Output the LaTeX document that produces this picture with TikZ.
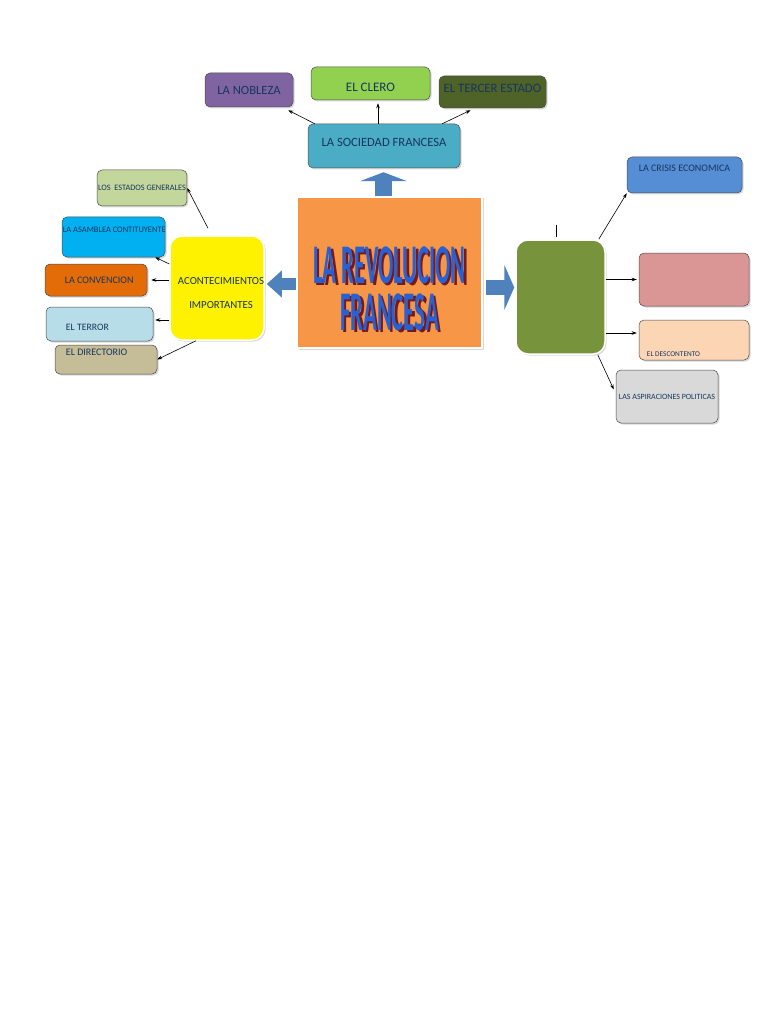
\documentclass[tikz,border=0pt]{standalone}
\usepackage{fontspec}
\setmainfont{Carlito}
\usetikzlibrary{arrows.meta,shadows}
\definecolor{navytext}{RGB}{23,54,93}
\definecolor{noblepurple}{RGB}{128,100,162}
\definecolor{clerogreen}{RGB}{146,208,80}
\definecolor{tercerolive}{RGB}{79,98,40}
\definecolor{socteal}{RGB}{75,172,198}
\definecolor{revorange}{RGB}{247,150,70}
\definecolor{titleblue}{RGB}{38,98,214}
\definecolor{titleshade}{RGB}{120,25,25}
\definecolor{estadosgreen}{RGB}{195,214,155}
\definecolor{asamblue}{RGB}{0,176,240}
\definecolor{convorange}{RGB}{227,108,9}
\definecolor{terrorblue}{RGB}{183,222,232}
\definecolor{directan}{RGB}{196,189,151}
\definecolor{causegreen}{RGB}{119,147,60}
\definecolor{crisisblue}{RGB}{85,142,213}
\definecolor{rosepink}{RGB}{217,150,148}
\definecolor{descpeach}{RGB}{252,213,181}
\definecolor{aspirgray}{RGB}{217,217,217}
\definecolor{arrowblue}{RGB}{79,129,189}

\begin{document}
\begin{tikzpicture}[x=1pt,y=-1pt,
    box/.style={draw=black!70,line width=0.5pt,rounded corners=5pt,inner sep=1pt,
                font=\fontsize{12.6}{14}\selectfont,text=navytext,align=center,
                drop shadow={shadow xshift=1.5pt,shadow yshift=-1.5pt,opacity=0.3}},
    bigbox/.style={box,rounded corners=12pt,draw=white,line width=1.5pt},
    lbl/.style={text=navytext,inner sep=1pt},
    conn/.style={->,>={Stealth[length=5pt,width=3.5pt]},line width=0.6pt},
    fat/.style={draw=arrowblue,line width=#1},
    titletxt/.style={font=\fontsize{40}{33.6}\selectfont\bfseries,align=center,
                inner sep=0pt,xscale=0.565,yscale=1.4,transform shape}]
    \fill[white] (0,0) rectangle (768,1024);
    \useasboundingbox (0,0) rectangle (768,1024);

    % top: la sociedad
    \node[box,fill=noblepurple,minimum width=88pt,minimum height=34pt] (noble) at (249,90) {LA NOBLEZA};
    \node[box,fill=clerogreen,minimum width=119pt,minimum height=33pt,
          label={[lbl,font=\fontsize{13}{14}\selectfont,yshift=-3.5pt]center:EL CLERO}] (clero) at (370.5,83.5) {};
    \node[box,fill=tercerolive,minimum width=107pt,minimum height=32pt,
          label={[lbl,font=\fontsize{12.8}{14}\selectfont,yshift=4pt]center:EL TERCER ESTADO}] (tercer) at (492.5,92) {};
    \node[box,fill=socteal,minimum width=152pt,minimum height=44pt,
          label={[lbl,font=\fontsize{12.6}{14}\selectfont,yshift=4pt]center:LA SOCIEDAD FRANCESA}] (soc) at (384,146) {};

    % center
    \node[draw=white,line width=1.5pt,fill=revorange,minimum width=185pt,minimum height=151pt,
          drop shadow={shadow xshift=1.5pt,shadow yshift=-1.5pt,opacity=0.3}] (center) at (389.5,272.5) {};
    \node[titletxt,text=titleshade] (titleback) at (392,291) {LA REVOLUCION\\FRANCESA};
    \node[titletxt,text=titleblue] (title) at ([shift={(-2.5,-2.5)}]titleback) {LA REVOLUCION\\FRANCESA};

    % left: acontecimientos
    \node[bigbox,fill=yellow,minimum width=94pt,minimum height=104pt,
          label={[lbl,font=\fontsize{10.8}{24}\selectfont,align=center,xshift=4pt,yshift=-5pt]center:ACONTECIMIENTOS\\IMPORTANTES}] (acont) at (217,288) {};
    \node[box,fill=estadosgreen,minimum width=88pt,minimum height=36pt,
          font=\fontsize{8.3}{9}\selectfont] (estados) at (142,188) {LOS \ ESTADOS GENERALES};
    \node[box,fill=asamblue,minimum width=103pt,minimum height=40pt,
          label={[lbl,font=\fontsize{8.4}{9}\selectfont,anchor=west,yshift=7pt]west:LA ASAMBLEA CONTITUYENTE}] (asamblea) at (113.5,237) {};
    \node[box,fill=convorange,minimum width=102pt,minimum height=32pt,
          label={[lbl,font=\fontsize{10}{11}\selectfont,anchor=west,xshift=19pt]west:LA CONVENCION}] (conv) at (96,280) {};
    \node[box,fill=terrorblue,minimum width=107pt,minimum height=34pt,
          label={[lbl,font=\fontsize{9.8}{11}\selectfont,anchor=west,xshift=19pt,yshift=-3pt]west:EL TERROR}] (terror) at (99.5,324) {};
    \node[box,fill=directan,minimum width=102pt,minimum height=29pt,
          label={[lbl,font=\fontsize{10}{11}\selectfont,anchor=west,xshift=10pt,yshift=7.5pt]west:EL DIRECTORIO}] (directorio) at (106,359.5) {};

    % right: causas
    \node[bigbox,fill=causegreen,minimum width=89pt,minimum height=114pt] (causes) at (560.5,297) {};
    \node[box,fill=crisisblue,minimum width=115pt,minimum height=36pt,
          label={[lbl,font=\fontsize{10}{11}\selectfont,anchor=north,yshift=-7pt]north:LA CRISIS ECONOMICA}] (crisis) at (684.5,175) {};
    \node[box,fill=rosepink,minimum width=110pt,minimum height=53pt] (rose) at (694,279.5) {};
    \node[box,fill=descpeach,minimum width=110pt,minimum height=40pt,
          label={[lbl,font=\fontsize{7.3}{8}\selectfont,anchor=south west,xshift=7pt,yshift=3pt]south west:EL DESCONTENTO}] (desc) at (694,340) {};
    \node[box,fill=aspirgray,minimum width=102pt,minimum height=53pt,
          font=\fontsize{8}{9}\selectfont] (aspir) at (667,396.5) {LAS ASPIRACIONES POLITICAS};

    % block arrows
    \draw[fat=17pt,-{Triangle[width=47pt,length=9pt]},shorten >=4pt]
        ([xshift=-6pt]center.north) -- ([xshift=-6pt]center.north |- soc.south);
    \draw[fat=12pt,-{Triangle[width=26pt,length=15pt]},shorten >=2pt]
        ([yshift=-11.5pt]center.west) -- ([yshift=-11.5pt]center.west -| acont.east);
    \draw[fat=15pt,-{Triangle[width=45pt,length=10pt]},shorten <=3pt,shorten >=1pt]
        ([yshift=-15pt]center.east) -- ([yshift=-15pt]center.east -| causes.west);

    % connectors
    \draw[conn] ([xshift=7pt]soc.north west) -- ([xshift=-5pt,yshift=-3pt]noble.south east);
    \draw[conn,shorten >=3pt] ([xshift=-6pt]soc.north) -- ([xshift=-6pt]soc.north |- clero.south);
    \draw[conn] ([xshift=-18pt]soc.north east) -- ([xshift=-22pt,yshift=-2pt]tercer.south);

    \draw[conn] ([xshift=-9pt,yshift=7pt]acont.north) -- (estados.east);
    \draw[conn] ([yshift=24pt]acont.west) -- ([xshift=-10pt]asamblea.south east);
    \draw[conn,shorten >=4pt] (acont.west |- conv.east) -- (conv.east);
    \draw[conn,shorten >=2pt] ([yshift=4pt]acont.west |- terror.east) -- ([yshift=4pt]terror.east);
    \draw[conn] ([xshift=-21pt]acont.south) -- (directorio.east);

    \draw ([xshift=-4pt,yshift=2pt]causes.north) -- ++(0,-12);
    \draw[conn] ([xshift=-7pt]causes.north east) -- (crisis.south west);
    \draw[conn,shorten >=2pt] (causes.east |- rose.west) -- (rose.west);
    \draw[conn,shorten >=2pt] ([yshift=7pt]desc.west -| causes.east) -- ([yshift=7pt]desc.west);
    \draw[conn] ([xshift=-8pt]causes.south east) -- ([xshift=-2pt,yshift=7pt]aspir.west);
\end{tikzpicture}
\end{document}
